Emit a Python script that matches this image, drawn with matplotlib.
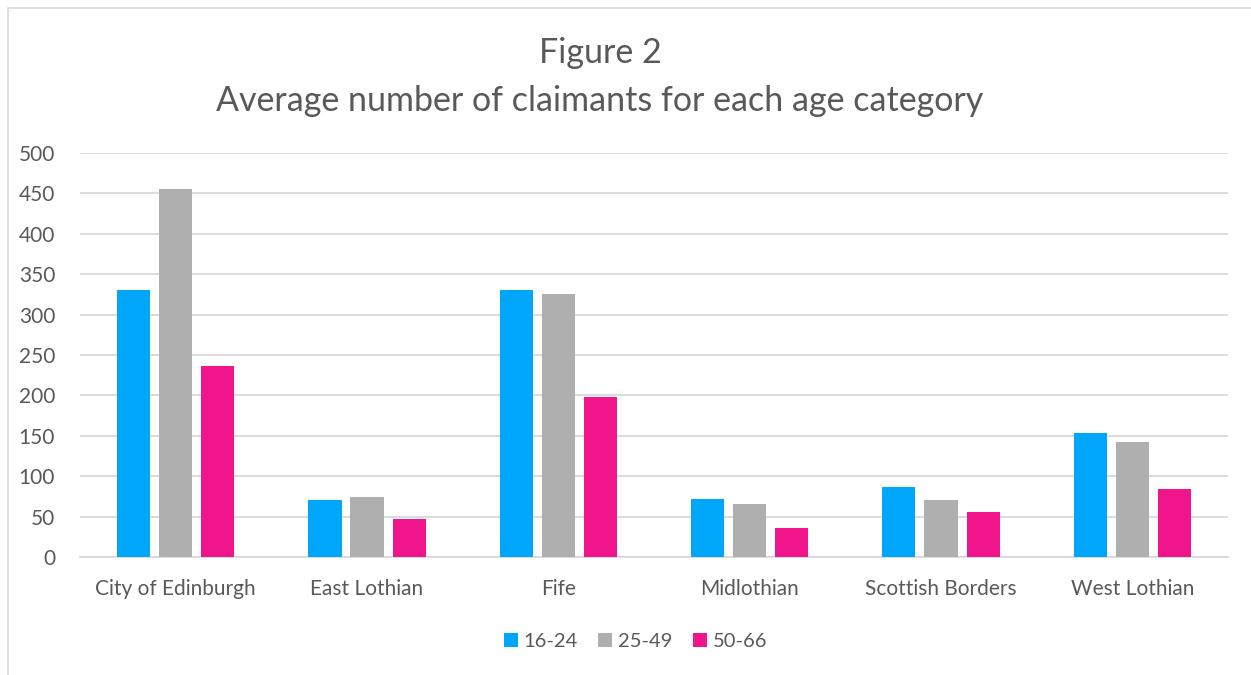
import numpy as np
import matplotlib.pyplot as plt
from matplotlib.patches import Rectangle

plt.rcParams['font.family'] = ['Lato', 'DejaVu Sans']

areas = ["City of Edinburgh", "East Lothian", "Fife", "Midlothian",
         "Scottish Borders", "West Lothian"]
age_groups = ["16-24", "25-49", "50-66"]
claims_16_24 = [331, 70, 330, 72, 87, 153]
claims_25_49 = [456, 74, 326, 66, 70, 142]
claims_50_66 = [236, 47, 198, 36, 56, 84]

colors = ["#00A6FA", "#AFAFAF", "#F0158A"]
text_col = "#595959"

fig = plt.figure(figsize=(12.51, 6.75), dpi=100)
ax = fig.add_axes([0.064, 0.1748, 0.9176, 0.5985])

x = np.arange(len(areas))
width = 0.173
step = 0.22
for i, (vals, lab) in enumerate(zip([claims_16_24, claims_25_49, claims_50_66], age_groups)):
    ax.bar(x + (i - 1) * step, vals, width, color=colors[i], label=lab, zorder=3)

ax.set_xlim(-0.5, len(areas) - 0.5)
ax.set_ylim(0, 500)
ax.set_yticks(range(0, 501, 50))
ax.grid(axis="y", color="#D9D9D9", linewidth=1.3, zorder=0)
ax.set_xticks(x)
ax.set_xticklabels(areas)
ax.tick_params(axis="both", length=0, labelsize=15, colors=text_col)
ax.tick_params(axis="y", pad=18)
ax.tick_params(axis="x", pad=16)
for s in ["top", "right", "left"]:
    ax.spines[s].set_visible(False)
ax.spines["bottom"].set_color("#D9D9D9")
ax.spines["bottom"].set_linewidth(1.3)

fig.text(0.4796, 0.921, "Figure 2", ha="center", va="center", fontsize=24.5, color=text_col)
fig.text(0.4796, 0.850, "Average number of claimants for each age category",
         ha="center", va="center", fontsize=24.5, color=text_col)

leg = fig.legend(loc="center", bbox_to_anchor=(0.508, 0.05), ncol=3, frameon=False,
                 fontsize=14.5, handlelength=0.7, handleheight=0.7, handletextpad=0.3,
                 columnspacing=1.0)
for t in leg.get_texts():
    t.set_color(text_col)

fig.patches.append(Rectangle((0.0064, -0.01), 1.0, 0.998, transform=fig.transFigure,
                             fill=False, edgecolor="#D9D9D9", linewidth=1.2))

fig.savefig("out.png", dpi=100)
